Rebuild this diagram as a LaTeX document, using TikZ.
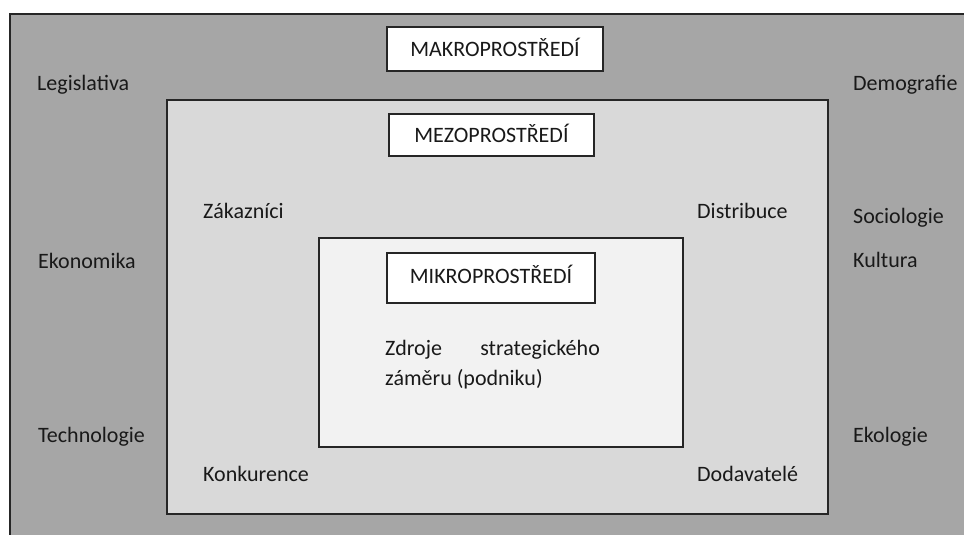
\documentclass[tikz,border=0pt]{standalone}
\usepackage{fontspec}
\setmainfont{Carlito}
\begin{document}
\begin{tikzpicture}[x=1pt,y=-1pt,
  frame/.style={draw=black!85,line width=1.3pt},
  titlebox/.style={draw=black!85,line width=1.3pt,fill=white},
  lbl/.style={anchor=base west,inner sep=0pt,font=\fontsize{22}{26}\selectfont,text=black!90},
  ttl/.style={anchor=base,inner sep=0pt,font=\fontsize{22}{26}\selectfont,text=black!90}]
\useasboundingbox (0,0) rectangle (964,535);
\clip (0,0) rectangle (964,535);
\fill[white] (0,0) rectangle (964,535);
% outer (macro)
\draw[frame,fill=black!35] (10,14) rectangle (980,550);
% meso
\draw[frame,fill=black!15] (167,100) rectangle (828,514);
% micro
\draw[frame,fill=black!5] (319,238) rectangle (683,447);
% title boxes
\draw[titlebox] (387,27) rectangle (603,71);
\draw[titlebox] (389,114) rectangle (594,156);
\draw[titlebox] (387,253) rectangle (595,303);
\node[ttl] (makro) at (495,57) {MAKROPROSTŘEDÍ};
\node[ttl] (mezo) at (491.5,142) {MEZOPROSTŘEDÍ};
\node[ttl] (mikro) at (491,283) {MIKROPROSTŘEDÍ};
% macro labels
\node[lbl] (legis) at (37,91) {Legislativa};
\node[lbl] (ekon) at (38,268) {Ekonomika};
\node[lbl] (tech) at (38,442) {Technologie};
\node[lbl] (demo) at (853,91) {Demografie};
\node[lbl] (soc) at (853,223) {Sociologie};
\node[lbl] (kult) at (853,267) {Kultura};
\node[lbl] (eko) at (853,442) {Ekologie};
% meso labels
\node[lbl] (zak) at (203,218) {Zákazníci};
\node[lbl] (dist) at (697,218) {Distribuce};
\node[lbl] (konk) at (203,481) {Konkurence};
\node[lbl] (doda) at (697,481) {Dodavatelé};
% micro text
\node[lbl] (zdroje) at (385,355) {Zdroje};
\node[anchor=base east,inner sep=0pt,font=\fontsize{22}{26}\selectfont,text=black!90] (strat) at (600,355) {strategického};
\node[lbl] (zameru) at (385,385) {záměru (podniku)};
\end{tikzpicture}
\end{document}
